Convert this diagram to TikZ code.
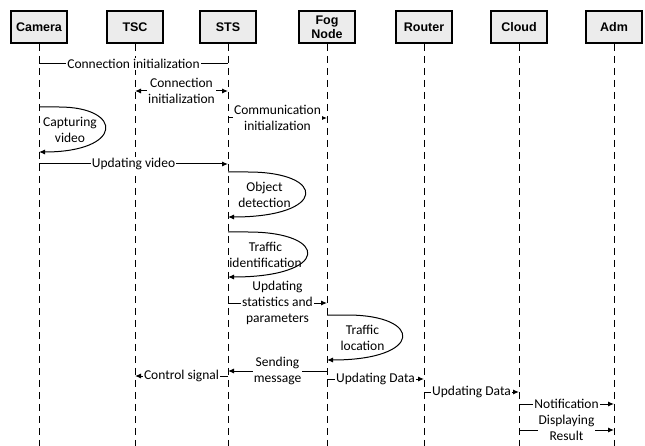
\documentclass[tikz,border=0pt]{standalone}
\usepackage{fontspec}
\setmainfont{Carlito}
\newfontfamily\headfont{Liberation Sans}
\usetikzlibrary{arrows.meta}

\tikzset{
	actor/.style={draw,line width=1.6pt,fill=gray!15,minimum width=56pt,minimum height=32pt,
		inner sep=1pt,align=center,font=\headfont\bfseries\fontsize{12.5}{14}\selectfont},
	lifeline/.style={line width=1pt,dash pattern=on 7pt off 5pt},
	msg/.style={line width=1pt,-{Latex[length=6pt,width=5pt]}},
	bimsg/.style={line width=1pt,{Latex[length=6pt,width=5pt]}-{Latex[length=6pt,width=5pt]}},
	lbl/.style={fill=white,inner sep=1pt,align=center,font=\fontsize{13.5}{16}\selectfont},
	looptxt/.style={inner sep=0pt,align=center,font=\fontsize{13.5}{16}\selectfont}
}

\begin{document}
\begin{tikzpicture}[x=1pt,y=-1pt]
\useasboundingbox (0,0) rectangle (645,446);

% participants and their lifelines
\foreach \x/\nm/\txt in {39/cam/Camera,135/tsc/TSC,228/sts/STS,327/fog/{Fog\\Node},424/rtr/Router,519/cld/Cloud,614/adm/Adm}
{
	\node[actor] (\nm) at (\x,27) {\txt};
	\draw[lifeline] (\nm.south) -- (\nm |- 0,446);
}

% self call: lifeline, top, bottom, bulge, name, text
\newcommand{\selfcall}[6]{
	\pgfmathsetmacro\ctrl{(#4-2.5)/0.75}
	\pgfmathsetmacro\midy{(#2+#3)/2}
	\draw[msg] (#1 |- 0,#2) -- ++(20,0) .. controls +(\ctrl-20,0) and +(\ctrl,0) .. (#1 |- 0,#3);
	\path (#1 |- 0,\midy) ++(#4/2-2,0) node[looptxt] (#5) {#6};
}

\draw[line width=1pt] (cam |- 0,64) -- node[lbl] (m1) {Connection initialization} (sts |- 0,64);
\draw[bimsg] (tsc |- 0,91) -- node[lbl] (m2) {Connection\\initialization} (sts |- 0,91);
\draw[msg] (sts |- 0,118) -- node[lbl] (m3) {Communication\\initialization} (fog |- 0,118);
\selfcall{cam}{107}{152}{66}{l1}{Capturing\\video}
\draw[msg] (cam |- 0,164) -- node[lbl] (m4) {Updating video} (sts |- 0,164);
\selfcall{sts}{172}{217}{77}{l2}{Object\\detection}
\selfcall{sts}{232}{277}{79}{l3}{Traffic\\identification}
\draw[msg] (sts |- 0,303) -- node[lbl] (m5) {Updating\\statistics and\\parameters} (fog |- 0,303);
\selfcall{fog}{315}{360}{75}{l4}{Traffic\\location}
\draw[msg] (fog |- 0,371) -- node[lbl] (m6) {Sending\\message} (sts |- 0,371);
\draw[msg] (sts |- 0,376) -- node[lbl] (m7) {Control signal} (tsc |- 0,376);
\draw[msg] (fog |- 0,379) -- node[lbl] (m8) {Updating Data} (rtr |- 0,379);
\draw[msg] (rtr |- 0,392) -- node[lbl] (m9) {Updating Data} (cld |- 0,392);
\draw[msg] (cld |- 0,404) -- node[lbl] (m10) {Notification} (adm |- 0,404);
\draw[msg] (cld |- 0,430) -- node[lbl,yshift=2pt] (m11) {Displaying\\Result} (adm |- 0,430);

\end{tikzpicture}
\end{document}
